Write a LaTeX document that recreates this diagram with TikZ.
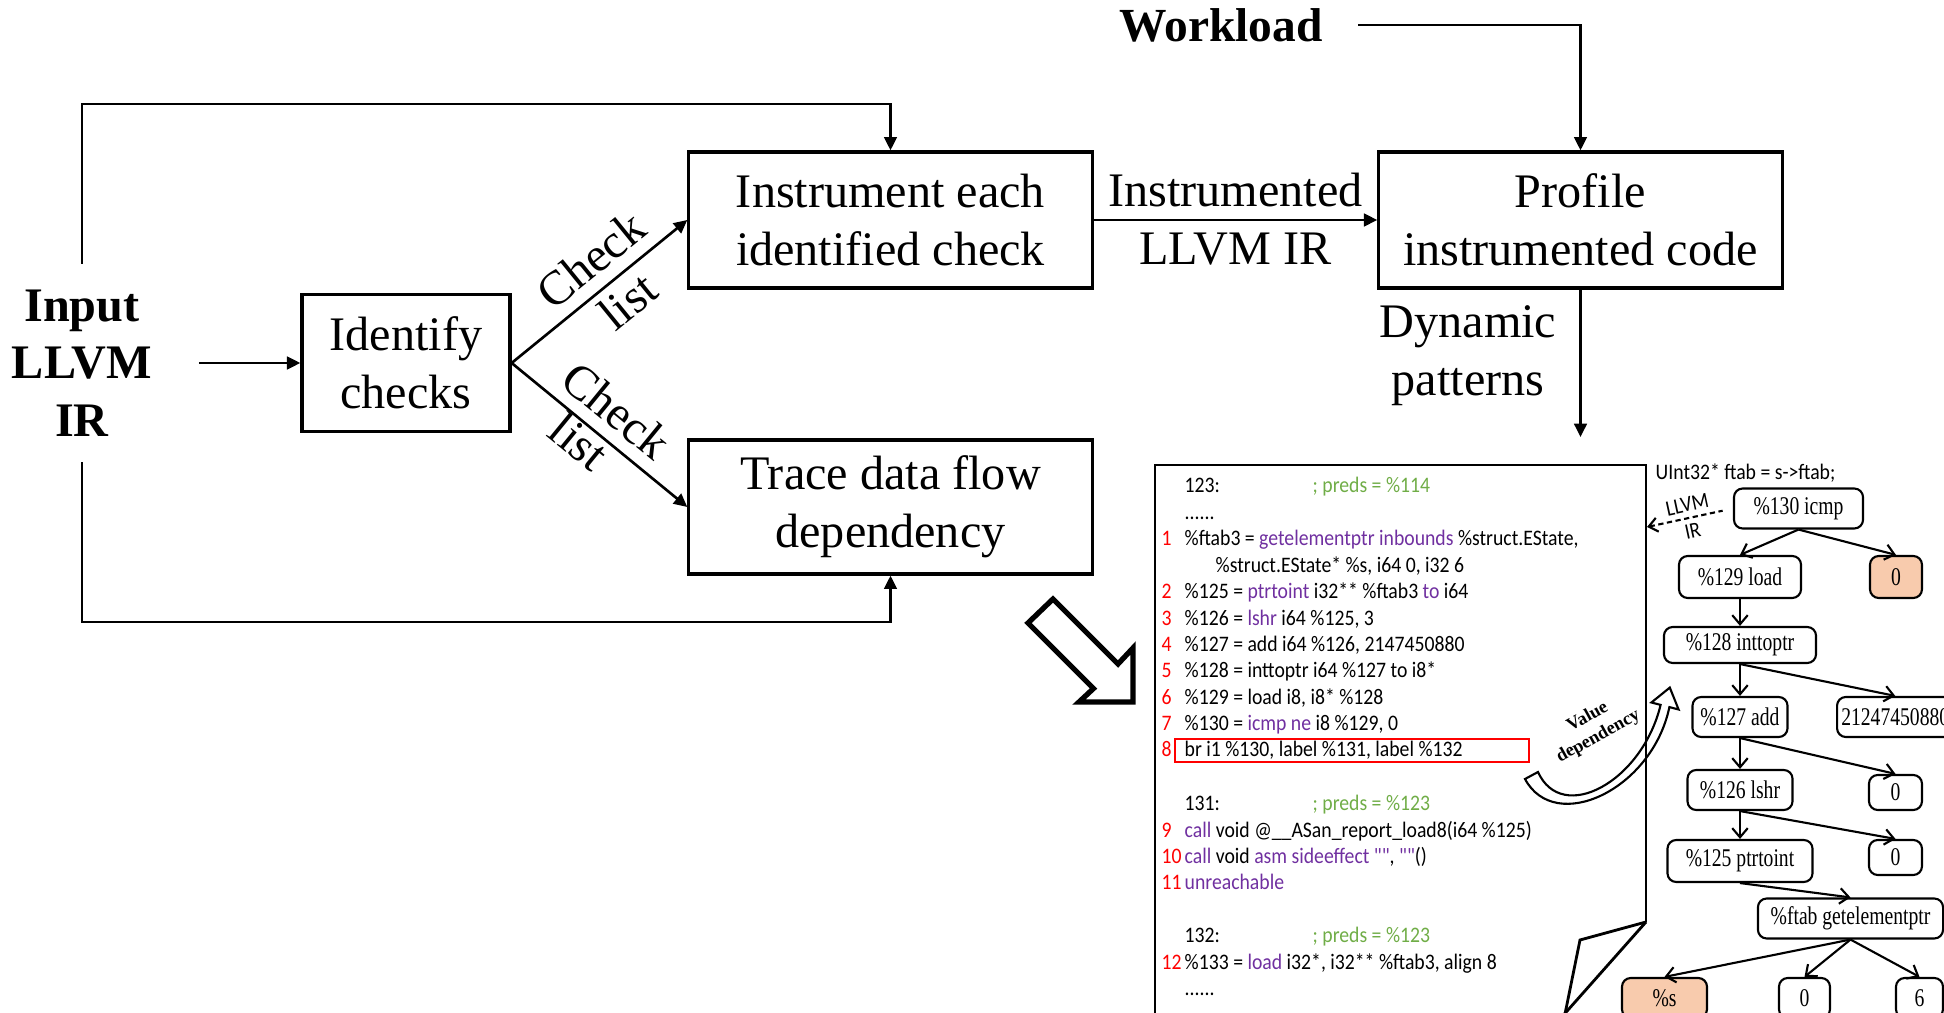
\documentclass[tikz,border=0pt]{standalone}
\usepackage{fontspec}
\setmainfont{Liberation Serif}
\newfontfamily\codefont[FakeStretch=0.89]{Carlito}
\newfontfamily\treefont[FakeStretch=0.77]{Liberation Serif}
\usetikzlibrary{positioning,calc,arrows.meta}

\definecolor{irpurple}{RGB}{112,48,160}
\definecolor{irgreen}{RGB}{112,173,71}
\definecolor{irred}{RGB}{255,0,0}
\definecolor{leafpeach}{RGB}{248,203,173}

\newcommand{\irkw}[1]{\textcolor{irpurple}{#1}}

\begin{document}
\begin{tikzpicture}
    [
    x=0.01cm, y=-0.01cm,
    stage/.style={
      draw, line width=0.9pt, align=center,
      minimum width=4.03cm, minimum height=1.36cm,
      font=\fontsize{13.7}{16.5}\selectfont},
    flow/.style={
      line width=0.75pt,
      -{Triangle[length=3.8pt, width=3.6pt]}},
    lbl/.style={
      align=center, font=\fontsize{13.7}{16.5}\selectfont},
    codeln/.style={
      anchor=base west, inner sep=0pt,
      font=\codefont\fontsize{6.3}{7.5}\selectfont},
    lnum/.style={codeln, text=irred},
    tnode/.style={
      draw, rounded corners=2.5pt, line width=0.6pt,
      minimum height=0.4cm, inner sep=1pt,
      font=\treefont\fontsize{7.25}{8.5}\selectfont},
    tedge/.style={
      line width=0.6pt,
      -{Straight Barb[length=2.6pt, width=4.4pt]}}
    ]
    \useasboundingbox (0,0) rectangle (1944,1013);

    % First, the pipeline stages
    \node[lbl, font=\bfseries\fontsize{13.7}{16.3}\selectfont,
          minimum width=2.32cm, minimum height=1.97cm, inner sep=0pt]
          (input) at (82,363) {Input\\LLVM\\IR};
    \node[stage, minimum width=2.08cm, minimum height=1.37cm] (identify) at (406,363) {Identify\\checks};
    \node[stage] (instr) at (890.5,220) {Instrument each\\identified check};
    \node[stage, minimum height=1.34cm] (trace) at (890.5,507) {Trace data flow\\dependency};
    \node[stage] (profile) at (1580.5,220) {Profile\\instrumented code};
    \node[lbl, font=\bfseries\fontsize{13.5}{16}\selectfont, inner xsep=0.35cm]
          (workload) at (1221,25) {Workload};

    % Connect the stages
    \coordinate (toprail) at (0,104);
    \coordinate (botrail) at (0,622);
    \coordinate (patternsend) at (1580.5,437);
    \draw[flow] (input.east) -- (identify.west);
    \draw[flow] (input.north) |- (toprail -| instr.north) -- (instr.north);
    \draw[flow] (input.south) |- (botrail -| trace.south) -- (trace.south);
    \draw[flow] (identify.east)
      -- node[lbl, above, sloped, pos=0.56] (chkA) {Check}
         node[lbl, below, sloped, pos=0.57, inner sep=2pt] (lstA) {list}
      (instr.west);
    \draw[flow] (identify.east)
      -- node[lbl, above, sloped, pos=0.49] (chkB) {Check}
         node[lbl, below, sloped, pos=0.45, inner sep=0pt] (lstB) {list}
      (trace.west);
    \draw[flow] (instr.east)
      -- node[lbl, above] (irA) {Instrumented}
         node[lbl, below] (irB) {LLVM IR}
      (profile.west);
    \draw[flow] (workload.east) -| (profile.north);
    \draw[flow] (profile.south)
      -- node[lbl, left, pos=0.45, inner xsep=6.5pt] (dyn) {Dynamic\\patterns}
      (patternsend);

    % Hollow arrow towards the listing
    \draw[line width=1.5pt, line join=miter]
      (1053,599) -- (1118,664) -- (1133,648) -- (1133,702)
      -- (1079,702) -- (1093.5,688.5) -- (1028,623) -- cycle;

    % The IR listing, a page with a folded corner
    \draw[line width=0.8pt] (1646,922) -- (1646,465) -- (1155,465) -- (1155,1030);
    \draw[line width=0.8pt] (1646,922) -- (1560,1019);
    \draw[line width=0.8pt, line join=miter] (1646,922) -- (1580,940) -- (1564,1019);
    \draw[irred, line width=0.6pt] (1175,739) rectangle (1529,762);

    \foreach \num/\ypos in {1/546, 2/599, 3/626, 4/652, 5/678, 6/705,
                            7/731, 8/757, 9/838, 10/864, 11/890, 12/970}
      \node[lnum] (ln\num) at (1161,\ypos) {\num};

    \foreach \ypos/\txt [count=\k] in {
        493/{123:},
        520/{......},
        546/{\%ftab3 = \irkw{getelementptr inbounds} \%struct.EState,},
        599/{\%125 = \irkw{ptrtoint} i32** \%ftab3 \irkw{to} i64},
        626/{\%126 = \irkw{lshr} i64 \%125, 3},
        652/{\%127 = add i64 \%126, 2147450880},
        678/{\%128 = inttoptr i64 \%127 to i8*},
        705/{\%129 = load i8, i8* \%128},
        731/{\%130 = \irkw{icmp ne} i8 \%129, 0},
        757/{br i1 \%130, label \%131, label \%132},
        811/{131:},
        838/{\irkw{call} void @\_\_ASan\_report\_load8(i64 \%125)},
        864/{\irkw{call} void \irkw{asm sideeffect ""}, \irkw{""}()},
        890/{\irkw{unreachable}},
        943/{132:},
        970/{\%133 = \irkw{load} i32*, i32** \%ftab3, align 8},
        996/{......}
      }
      \node[codeln] (code\k) at (1184,\ypos) {\txt};
    \node[codeln] (codecont) at (1215,573) {\%struct.EState* \%s, i64 0, i32 6};

    \foreach \ypos/\pred [count=\k] in {493/114, 811/123, 943/123}
      \node[codeln, text=irgreen] (pred\k) at (1312,\ypos) {; preds = \%\pred};

    % The value dependency tree
    \node[codeln] (srcline) at (1655,480) {UInt32* ftab = s->ftab;};
    \node[tnode, minimum width=1.29cm] (icmp) at (1798.5,508.5) {\%130 icmp};
    \node[tnode, minimum width=1.22cm, minimum height=0.42cm] (load) at (1740,577) {\%129 load};
    \node[tnode, fill=leafpeach, minimum width=0.52cm, minimum height=0.42cm] (zeroA) at (1896,577) {0};
    \node[tnode, minimum width=1.52cm, minimum height=0.36cm] (inttoptr) at (1740,645) {\%128 inttoptr};
    \node[tnode, minimum width=0.95cm] (add) at (1740,717) {\%127 add};
    \node[tnode, anchor=west, inner xsep=1.2pt] (bignum) at (1836,717) {21247450880};
    \node[tnode, minimum width=1.05cm] (lshr) at (1740,790) {\%126 lshr};
    \node[tnode, minimum width=0.53cm, minimum height=0.35cm] (zeroB) at (1895.5,792.5) {0};
    \node[tnode, minimum width=1.45cm, minimum height=0.42cm] (ptrtoint) at (1740,861) {\%125 ptrtoint};
    \node[tnode, minimum width=0.53cm, minimum height=0.35cm] (zeroC) at (1895.5,857.5) {0};
    \node[tnode, minimum width=1.85cm] (gep) at (1850.5,918.5) {\%ftab getelementptr};
    \node[tnode, fill=leafpeach, minimum width=0.85cm] (sarg) at (1664.5,998) {\%s};
    \node[tnode, minimum width=0.51cm] (zeroD) at (1804.5,998) {0};
    \node[tnode, minimum width=0.47cm] (six) at (1919.5,998) {6};

    \foreach \a/\b in {icmp/load, icmp/zeroA, load/inttoptr, inttoptr/add,
                       inttoptr/bignum, add/lshr, add/zeroB, lshr/ptrtoint,
                       lshr/zeroC, ptrtoint/gep, gep/sarg, gep/zeroD, gep/six}
      \draw[tedge] (\a.south) -- (\b.north);

    % Link from the tree back to the listing
    \coordinate (panelin) at (1647,527);
    \draw[line width=0.6pt, dash pattern=on 1.5pt off 1pt,
          {Straight Barb[length=2.5pt, width=4pt]}-, shorten >=3pt]
      (panelin)
      -- node[codeln, above, sloped, inner sep=1.5pt] (irtagA) {LLVM}
         node[codeln, below, sloped, inner sep=1.5pt] (irtagB) {IR}
      (icmp.west);

    % Curved hollow arrow for the value dependency
    \draw[line width=0.6pt, line join=miter]
      (1525,779) .. controls (1555,835) and (1652,790) .. (1669.4,707.1)
      -- (1678.6,709.5) -- (1669.8,687.6) -- (1651.4,702.5) -- (1660.6,704.9)
      .. controls (1642,782) and (1562,825) .. (1538,772) -- cycle;
    \node[align=center, rotate=29, font=\bfseries\fontsize{5.2}{6.3}\selectfont]
      (valdep) at (1593,727) {Value\\dependency};
\end{tikzpicture}
\end{document}
